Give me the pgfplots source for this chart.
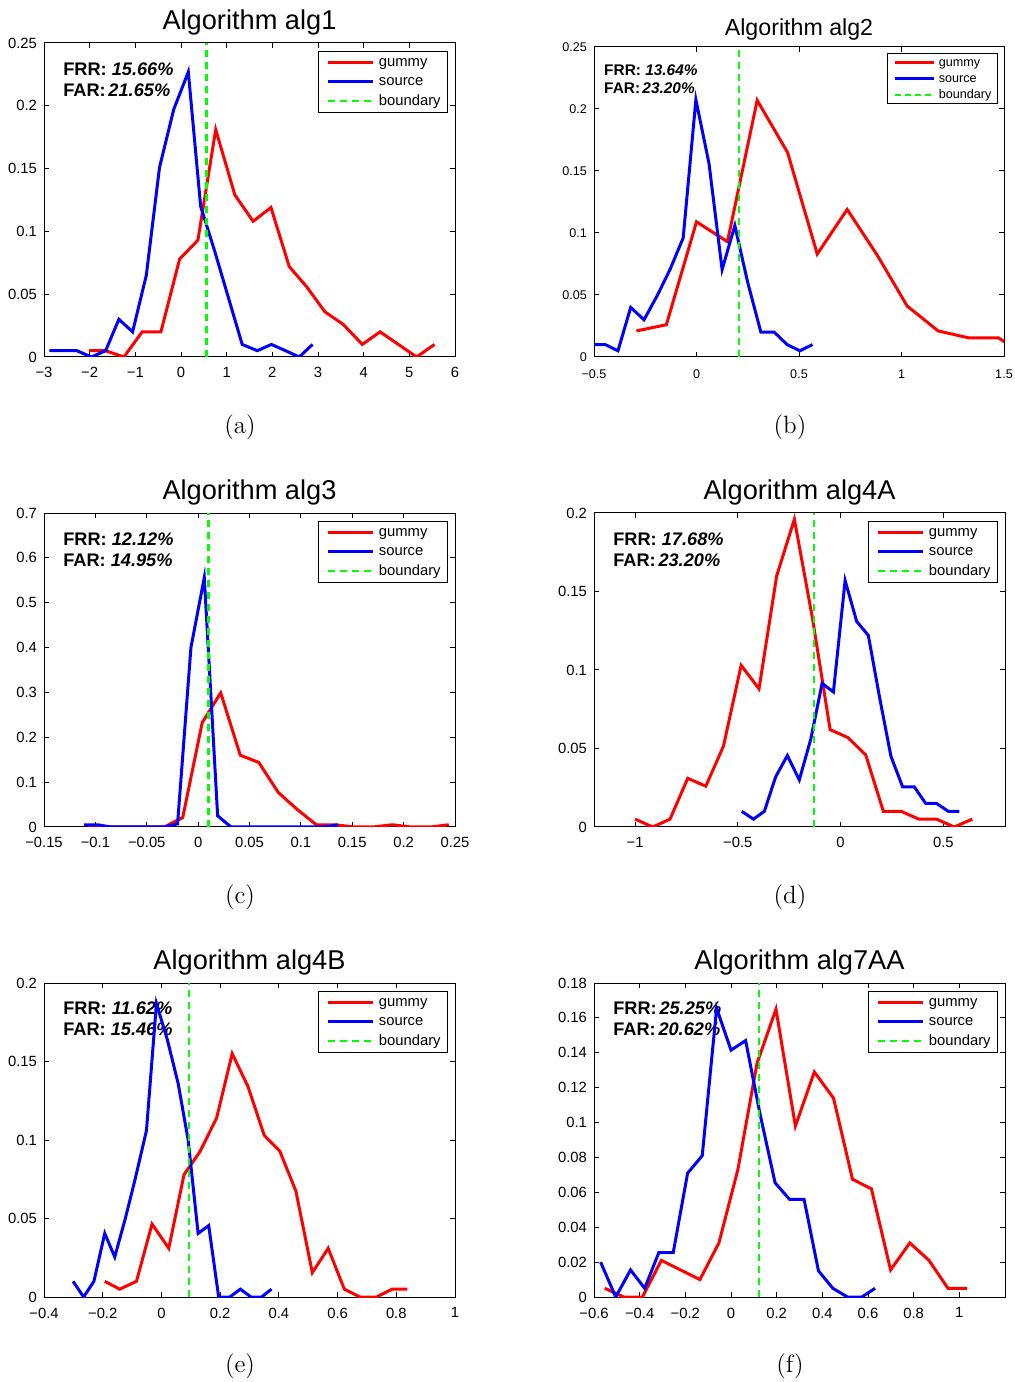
\documentclass[border=0pt]{standalone}
\usepackage{fontspec}
\usepackage{pgfplots}
\pgfplotsset{compat=1.18}
\newfontfamily\arial{Liberation Sans}

\definecolor{mred}{rgb}{1,0,0}
\definecolor{mblue}{rgb}{0,0,1}
\definecolor{mgreen}{rgb}{0,1,0}

\tikzset{
  gum/.style={draw=mred, line width=1.5pt},
  src/.style={draw=mblue, line width=1.5pt},
  bnd/.style={draw=mgreen, line width=1.2pt, dash pattern=on 3.5pt off 2.5pt},
  rate/.style={anchor=west, inner sep=0pt, font=\arial\fontsize{9.1}{11}\selectfont\bfseries},
  ratesmall/.style={anchor=west, inner sep=0pt, font=\arial\fontsize{7.7}{9}\selectfont\bfseries},
}

% 1 px of the reference = 0.5pt
\pgfplotsset{
  panel/.style={
    scale only axis, width=205.5pt, height=157pt,
    axis line style={line width=0.5pt},
    every tick/.style={black, line width=0.5pt},
    major tick length=2.5pt,
    tick align=inside,
    ticklabel style={font=\arial\fontsize{7.4}{8.9}\selectfont},
    xticklabel style={yshift=-1.8pt},
    title style={font=\arial\fontsize{13.6}{16}\selectfont, yshift=-5.5pt},
    legend cell align=left,
    legend style={at={(0.983,0.975)}, anchor=north east, draw=black,
      font=\arial\fontsize{7.4}{8.9}\selectfont, inner xsep=2.5pt, inner ysep=1.8pt, row sep=2.35pt,
      nodes={inner xsep=1pt, inner ysep=0pt, text height=5.6pt, text depth=1.8pt}},
  },
  small/.style={
    width=205pt, height=155pt,
    ticklabel style={font=\arial\fontsize{6.3}{7.6}\selectfont},
    xticklabel style={yshift=-1.1pt},
    title style={font=\arial\fontsize{11.6}{14}\selectfont, yshift=-0.5pt},
    legend style={at={(0.985,0.98)}, font=\arial\fontsize{6.3}{7.6}\selectfont, inner xsep=2pt, inner ysep=1.5pt, row sep=1.9pt,
      nodes={inner xsep=1pt, inner ysep=0pt, text height=4.8pt, text depth=1.3pt}},
  },
  % legend samples, drawn explicitly
  lgum/.style={legend image code/.code={\path[draw=none] (0pt,0pt) -- (27pt,0pt); \draw[mred, line width=1.5pt] (2.5pt,0pt) -- (25pt,0pt);}},
  lsrc/.style={legend image code/.code={\path[draw=none] (0pt,0pt) -- (27pt,0pt); \draw[mblue, line width=1.5pt] (2.5pt,0pt) -- (25pt,0pt);}},
  lbnd/.style={legend image code/.code={\path[draw=none] (0pt,0pt) -- (27pt,0pt); \draw[mgreen, line width=1.2pt, dash pattern=on 3.5pt off 2.5pt] (2.5pt,0pt) -- (25pt,0pt);}},
  sgum/.style={legend image code/.code={\path[draw=none] (0pt,0pt) -- (23pt,0pt); \draw[mred, line width=1.3pt] (2pt,0pt) -- (21.5pt,0pt);}},
  ssrc/.style={legend image code/.code={\path[draw=none] (0pt,0pt) -- (23pt,0pt); \draw[mblue, line width=1.3pt] (2pt,0pt) -- (21.5pt,0pt);}},
  sbnd/.style={legend image code/.code={\path[draw=none] (0pt,0pt) -- (23pt,0pt); \draw[mgreen, line width=1pt, dash pattern=on 3pt off 2pt] (2pt,0pt) -- (21.5pt,0pt);}},
}

\begin{document}
\begin{tikzpicture}
\path[use as bounding box] (0,0) rectangle (507pt,691pt);

% (a)
\begin{axis}[panel, at={(22pt,512.5pt)}, anchor=south west,
  title={Algorithm alg1},
  xmin=-3, xmax=6, ymin=0, ymax=0.25,
  xtick={-3,-2,-1,0,1,2,3,4,5,6}, xticklabels={−3,−2,−1,0,1,2,3,4,5,6},
  ytick={0,0.05,0.1,0.15,0.2,0.25}, yticklabels={0,0.05,0.1,0.15,0.2,0.25}]
\addplot[gum, forget plot] coordinates {(-2.01,0.005) (-1.65,0.005) (-1.25,0) (-0.85,0.02) (-0.44,0.02) (-0.03,0.078) (0.37,0.093) (0.76,0.181) (1.18,0.129) (1.58,0.108) (1.97,0.119) (2.37,0.072) (2.75,0.056) (3.15,0.036) (3.55,0.026) (3.97,0.01) (4.36,0.02) (4.76,0.01) (5.16,0) (5.55,0.01)};
\addplot[src, forget plot] coordinates {(-2.88,0.005) (-2.58,0.005) (-2.28,0.005) (-1.96,0) (-1.65,0.005) (-1.36,0.03) (-1.06,0.02) (-0.76,0.065) (-0.47,0.151) (-0.16,0.197) (0.16,0.227) (0.43,0.12) (0.74,0.084) (1.04,0.047) (1.34,0.01) (1.67,0.005) (1.98,0.01) (2.29,0.005) (2.59,0) (2.88,0.01)};
\addplot[bnd, forget plot] coordinates {(0.56,0) (0.56,0.25)};
\addlegendimage{lgum}\addlegendentry{gummy}
\addlegendimage{lsrc}\addlegendentry{source}
\addlegendimage{lbnd}\addlegendentry{boundary}
\node[rate] at (rel axis cs:0.046,0.917) {FRR: \textit{15.66\%}};
\node[rate] at (rel axis cs:0.046,0.850) {FAR:\hspace{0.15em}\textit{21.65\%}};
\end{axis}

% (b)
\begin{axis}[panel, small, at={(297pt,512.5pt)}, anchor=south west,
  title={Algorithm alg2},
  xmin=-0.5, xmax=1.5, ymin=0, ymax=0.25,
  xtick={-0.5,0,0.5,1,1.5}, xticklabels={−0.5,0,0.5,1,1.5},
  ytick={0,0.05,0.1,0.15,0.2,0.25}, yticklabels={0,0.05,0.1,0.15,0.2,0.25}]
\addplot[gum, forget plot] coordinates {(-0.293,0.021) (-0.147,0.026) (0,0.109) (0.151,0.093) (0.296,0.207) (0.444,0.165) (0.589,0.083) (0.735,0.119) (0.882,0.082) (1.028,0.041) (1.179,0.021) (1.326,0.0155) (1.472,0.0155) (1.619,0)};
\addplot[src, forget plot] coordinates {(-0.508,0.01) (-0.445,0.01) (-0.383,0.005) (-0.321,0.04) (-0.256,0.03) (-0.19,0.05) (-0.128,0.071) (-0.065,0.096) (-0.003,0.2075) (0.061,0.156) (0.125,0.0705) (0.187,0.106) (0.25,0.06) (0.314,0.02) (0.379,0.02) (0.442,0.01) (0.504,0.005) (0.566,0.01)};
\addplot[bnd, forget plot] coordinates {(0.206,0) (0.206,0.25)};
\addlegendimage{sgum}\addlegendentry{gummy}
\addlegendimage{ssrc}\addlegendentry{source}
\addlegendimage{sbnd}\addlegendentry{boundary}
\node[ratesmall] at (rel axis cs:0.024,0.926) {FRR: \textit{13.64\%}};
\node[ratesmall] at (rel axis cs:0.024,0.868) {FAR:\hspace{0.15em}\textit{23.20\%}};
\end{axis}

% (c)
\begin{axis}[panel, at={(22pt,277.5pt)}, anchor=south west,
  title={Algorithm alg3},
  xmin=-0.15, xmax=0.25, ymin=0, ymax=0.7,
  xtick={-0.15,-0.1,-0.05,0,0.05,0.1,0.15,0.2,0.25}, xticklabels={−0.15,−0.1,−0.05,0,0.05,0.1,0.15,0.2,0.25},
  ytick={0,0.1,0.2,0.3,0.4,0.5,0.6,0.7}, yticklabels={0,0.1,0.2,0.3,0.4,0.5,0.6,0.7}]
\addplot[gum, forget plot] coordinates {(-0.107,0) (-0.089,0) (-0.070,0) (-0.052,0) (-0.033,0) (-0.015,0.021) (0.004,0.233) (0.022,0.299) (0.041,0.16) (0.059,0.144) (0.078,0.077) (0.096,0.04) (0.115,0.005) (0.133,0.005) (0.152,0) (0.170,0) (0.189,0.005) (0.207,0) (0.226,0) (0.244,0.005)};
\addplot[src, forget plot] coordinates {(-0.111,0.005) (-0.098,0.005) (-0.085,0) (-0.072,0) (-0.059,0) (-0.046,0) (-0.033,0) (-0.020,0.007) (-0.007,0.40) (0.006,0.556) (0.019,0.025) (0.032,0) (0.045,0) (0.058,0) (0.071,0) (0.084,0) (0.097,0) (0.110,0) (0.123,0) (0.136,0.005)};
\addplot[bnd, forget plot] coordinates {(0.01,0) (0.01,0.7)};
\addlegendimage{lgum}\addlegendentry{gummy}
\addlegendimage{lsrc}\addlegendentry{source}
\addlegendimage{lbnd}\addlegendentry{boundary}
\node[rate] at (rel axis cs:0.046,0.917) {FRR: \textit{12.12\%}};
\node[rate] at (rel axis cs:0.046,0.850) {FAR: \textit{14.95\%}};
\end{axis}

% (d)
\begin{axis}[panel, at={(297pt,277.5pt)}, anchor=south west,
  title={Algorithm alg4A},
  xmin=-1.2, xmax=0.8, ymin=0, ymax=0.2,
  xtick={-1,-0.5,0,0.5}, xticklabels={−1,−0.5,0,0.5},
  ytick={0,0.05,0.1,0.15,0.2}, yticklabels={0,0.05,0.1,0.15,0.2}]
\addplot[gum, forget plot] coordinates {(-1.0,0.005) (-0.914,0) (-0.83,0.005) (-0.744,0.031) (-0.656,0.026) (-0.57,0.0515) (-0.484,0.103) (-0.397,0.088) (-0.311,0.16) (-0.225,0.196) (-0.137,0.133) (-0.051,0.062) (0.035,0.057) (0.122,0.046) (0.208,0.01) (0.294,0.01) (0.381,0.005) (0.467,0.005) (0.553,0) (0.641,0.005)};
\addplot[src, forget plot] coordinates {(-0.481,0.01) (-0.424,0.005) (-0.371,0.01) (-0.316,0.032) (-0.259,0.0455) (-0.201,0.03) (-0.145,0.056) (-0.09,0.0915) (-0.035,0.086) (0.022,0.157) (0.078,0.131) (0.135,0.122) (0.189,0.083) (0.245,0.045) (0.302,0.0255) (0.359,0.0255) (0.414,0.015) (0.467,0.015) (0.524,0.01) (0.578,0.01)};
\addplot[bnd, forget plot] coordinates {(-0.13,0) (-0.13,0.2)};
\addlegendimage{lgum}\addlegendentry{gummy}
\addlegendimage{lsrc}\addlegendentry{source}
\addlegendimage{lbnd}\addlegendentry{boundary}
\node[rate] at (rel axis cs:0.046,0.917) {FRR: \textit{17.68\%}};
\node[rate] at (rel axis cs:0.046,0.850) {FAR:\hspace{0.15em}\textit{23.20\%}};
\end{axis}

% (e)
\begin{axis}[panel, at={(22pt,42.5pt)}, anchor=south west,
  title={Algorithm alg4B},
  xmin=-0.4, xmax=1, ymin=0, ymax=0.2,
  xtick={-0.4,-0.2,0,0.2,0.4,0.6,0.8,1}, xticklabels={−0.4,−0.2,0,0.2,0.4,0.6,0.8,1},
  ytick={0,0.05,0.1,0.15,0.2}, yticklabels={0,0.05,0.1,0.15,0.2}]
\node[rate] at (rel axis cs:0.046,0.920) {FRR: \textit{11.62\%}};
\node[rate] at (rel axis cs:0.046,0.854) {FAR: \textit{15.46\%}};
\addplot[gum, forget plot] coordinates {(-0.193,0.01) (-0.142,0.005) (-0.085,0.01) (-0.032,0.0465) (0.025,0.031) (0.077,0.078) (0.131,0.0925) (0.188,0.114) (0.241,0.155) (0.295,0.134) (0.35,0.103) (0.403,0.093) (0.458,0.0675) (0.514,0.0155) (0.568,0.031) (0.623,0.005) (0.676,0) (0.733,0) (0.786,0.005) (0.838,0.005)};
\addplot[src, forget plot] coordinates {(-0.301,0.01) (-0.265,0) (-0.23,0.01) (-0.193,0.0405) (-0.159,0.0255) (-0.123,0.05) (-0.089,0.0755) (-0.051,0.106) (-0.017,0.187) (0.02,0.164) (0.057,0.136) (0.091,0.1) (0.125,0.0405) (0.161,0.0455) (0.195,0) (0.233,0) (0.269,0.005) (0.305,0) (0.341,0) (0.375,0.005)};
\addplot[bnd, forget plot] coordinates {(0.094,0) (0.094,0.2)};
\addlegendimage{lgum}\addlegendentry{gummy}
\addlegendimage{lsrc}\addlegendentry{source}
\addlegendimage{lbnd}\addlegendentry{boundary}
\end{axis}

% (f)
\begin{axis}[panel, at={(297pt,42.5pt)}, anchor=south west,
  title={Algorithm alg7AA},
  xmin=-0.6, xmax=1.2, ymin=0, ymax=0.18,
  xtick={-0.6,-0.4,-0.2,0,0.2,0.4,0.6,0.8,1}, xticklabels={−0.6,−0.4,−0.2,0,0.2,0.4,0.6,0.8,1},
  ytick={0,0.02,0.04,0.06,0.08,0.1,0.12,0.14,0.16,0.18}, yticklabels={0,0.02,0.04,0.06,0.08,0.1,0.12,0.14,0.16,0.18}]
\node[rate] at (rel axis cs:0.046,0.920) {FRR:\hspace{0.15em}\textit{25.25\%}};
\node[rate] at (rel axis cs:0.046,0.854) {FAR:\hspace{0.15em}\textit{20.62\%}};
\addplot[gum, forget plot] coordinates {(-0.553,0.005) (-0.47,0) (-0.388,0) (-0.305,0.021) (-0.221,0.0155) (-0.136,0.01) (-0.053,0.031) (0.03,0.073) (0.114,0.134) (0.197,0.165) (0.282,0.098) (0.365,0.129) (0.449,0.114) (0.532,0.0675) (0.615,0.062) (0.699,0.0155) (0.783,0.031) (0.867,0.021) (0.95,0.005) (1.034,0.005)};
\addplot[src, forget plot] coordinates {(-0.571,0.02) (-0.505,0) (-0.44,0.0155) (-0.378,0.005) (-0.316,0.0255) (-0.253,0.0255) (-0.19,0.071) (-0.126,0.081) (-0.063,0.1655) (0,0.1415) (0.064,0.147) (0.127,0.105) (0.193,0.0655) (0.256,0.056) (0.32,0.056) (0.383,0.015) (0.446,0.005) (0.51,0) (0.573,0) (0.631,0.005)};
\addplot[bnd, forget plot] coordinates {(0.1225,0) (0.1225,0.18)};
\addlegendimage{lgum}\addlegendentry{gummy}
\addlegendimage{lsrc}\addlegendentry{source}
\addlegendimage{lbnd}\addlegendentry{boundary}
\end{axis}

% sub-figure captions
\node[font=\fontsize{12.5}{15}\selectfont] at (120pt,477.5pt) {(a)};
\node[font=\fontsize{12.5}{15}\selectfont] at (395pt,477.5pt) {(b)};
\node[font=\fontsize{12.5}{15}\selectfont] at (120pt,242.5pt) {(c)};
\node[font=\fontsize{12.5}{15}\selectfont] at (395pt,242.5pt) {(d)};
\node[font=\fontsize{12.5}{15}\selectfont] at (120pt,8pt) {(e)};
\node[font=\fontsize{12.5}{15}\selectfont] at (395pt,8pt) {(f)};
\end{tikzpicture}
\end{document}
